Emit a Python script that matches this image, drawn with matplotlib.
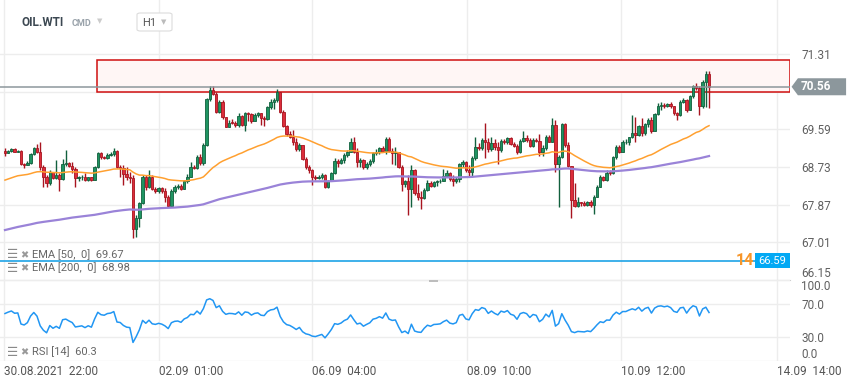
import numpy as np
import matplotlib
matplotlib.use('Agg')
import matplotlib.pyplot as plt
from matplotlib.patches import Polygon, Rectangle, FancyBboxPatch
from matplotlib.transforms import blended_transform_factory

plt.rcParams['font.family'] = ['Roboto', 'DejaVu Sans']

# OIL.WTI H1 candles
first_open = 69.09
closes = [
    69.04, 69.09, 69.13, 69.08, 69.09, 68.80, 68.77, 68.83, 69.03, 69.16,
    69.06, 68.72, 68.51, 68.37, 68.62, 68.48, 68.55, 68.45, 68.80, 68.83,
    68.75, 68.68, 68.47, 68.49, 68.51, 68.43, 68.49, 68.43, 68.72, 69.04,
    68.95, 68.93, 69.01, 69.03, 69.10, 68.72, 68.70, 68.57, 68.49, 68.47,
    67.31, 67.56, 67.90, 68.51, 68.28, 68.51, 68.22, 68.17, 68.24, 68.18,
    68.05, 67.84, 68.19, 68.28, 68.30, 68.22, 68.42, 68.51, 68.72, 68.70,
    68.95, 68.81, 69.23, 70.28, 70.49, 70.40, 69.99, 70.22, 69.86, 69.65,
    69.74, 69.73, 69.69, 69.89, 69.69, 69.97, 69.94, 69.79, 69.92, 69.96,
    69.84, 69.82, 70.09, 70.22, 70.26, 70.43, 69.99, 69.67, 69.48, 69.42,
    69.29, 69.13, 69.23, 68.90, 68.72, 68.65, 68.51, 68.47, 68.51, 68.55,
    68.27, 68.42, 68.60, 68.87, 68.83, 68.89, 69.01, 69.08, 69.30, 69.08,
    68.85, 68.89, 68.72, 68.80, 68.87, 69.04, 69.08, 69.16, 69.10, 69.36,
    69.10, 69.04, 69.06, 68.72, 68.34, 68.40, 68.22, 68.65, 68.13, 68.04,
    68.01, 68.21, 68.37, 68.30, 68.39, 68.40, 68.42, 68.52, 68.59, 68.45,
    68.41, 68.46, 68.80, 68.85, 68.66, 68.62, 68.93, 69.19, 69.16, 69.35,
    69.31, 69.13, 69.27, 69.18, 69.12, 69.33, 69.29, 69.38, 69.25, 69.21,
    69.06, 69.33, 69.39, 69.35, 69.21, 69.35, 69.32, 69.07, 69.17, 69.42,
    69.31, 69.68, 68.80, 68.95, 69.71, 69.23, 68.75, 67.98, 67.84, 67.93,
    67.90, 67.87, 67.93, 67.86, 68.05, 68.28, 68.49, 68.43, 68.60, 68.59,
    68.95, 69.19, 69.08, 69.29, 69.29, 69.41, 69.51, 69.46, 69.67, 69.50,
    69.71, 69.80, 69.54, 69.94, 70.11, 70.15, 70.11, 70.17, 70.11, 69.96,
    69.92, 70.22, 70.26, 70.03, 70.34, 70.58, 70.53, 70.11, 70.68, 70.85,
    70.56,
]
highs = [
    69.16, 69.12, 69.16, 69.17, 69.12, 69.12, 68.83, 68.86, 69.04, 69.19,
    69.25, 69.31, 68.78, 68.55, 68.66, 68.62, 68.89, 68.59, 68.90, 69.12,
    68.85, 68.85, 68.72, 68.52, 68.55, 68.59, 68.51, 68.49, 68.75, 69.07,
    69.06, 68.98, 69.04, 69.06, 69.16, 69.12, 68.78, 68.78, 68.72, 68.62,
    68.55, 67.63, 67.94, 68.55, 68.55, 68.66, 68.55, 68.28, 68.28, 68.27,
    68.24, 68.09, 68.22, 68.32, 68.34, 68.34, 68.43, 68.57, 68.85, 68.78,
    69.00, 69.03, 69.27, 70.30, 70.58, 70.58, 70.45, 70.26, 70.26, 69.86,
    69.80, 69.82, 69.77, 69.96, 69.92, 69.99, 69.99, 69.96, 69.96, 69.99,
    69.97, 69.89, 70.12, 70.28, 70.30, 70.50, 70.45, 70.02, 69.69, 69.54,
    69.57, 69.38, 69.27, 69.21, 68.95, 68.78, 68.68, 68.55, 68.55, 68.59,
    68.57, 68.43, 68.62, 68.93, 68.90, 68.93, 69.04, 69.12, 69.38, 69.42,
    69.16, 68.93, 68.90, 68.85, 68.90, 69.08, 69.13, 69.19, 69.21, 69.41,
    69.41, 69.16, 69.19, 69.08, 68.78, 68.43, 68.55, 68.78, 68.68, 68.34,
    68.17, 68.24, 68.43, 68.41, 68.42, 68.43, 68.45, 68.68, 68.66, 68.62,
    68.55, 68.51, 68.83, 68.89, 68.87, 68.78, 68.97, 69.42, 69.27, 69.38,
    69.73, 69.38, 69.42, 69.36, 69.29, 69.36, 69.36, 69.41, 69.41, 69.31,
    69.25, 69.36, 69.54, 69.46, 69.38, 69.38, 69.38, 69.48, 69.23, 69.46,
    69.46, 69.84, 69.80, 69.00, 69.74, 69.74, 69.31, 68.75, 68.36, 68.05,
    67.94, 67.96, 67.96, 67.98, 68.09, 68.32, 68.55, 68.52, 68.65, 68.66,
    68.98, 69.23, 69.23, 69.35, 69.36, 69.42, 69.92, 69.88, 69.69, 69.84,
    69.74, 69.84, 69.86, 69.97, 70.18, 70.22, 70.20, 70.20, 70.22, 70.12,
    69.99, 70.26, 70.30, 70.28, 70.37, 70.60, 70.64, 70.58, 70.72, 70.93,
    70.91,
]
lows = [
    68.97, 69.04, 69.08, 69.06, 69.06, 68.77, 68.70, 68.78, 68.80, 69.01,
    69.04, 68.66, 68.28, 68.28, 68.32, 68.45, 68.46, 68.17, 68.43, 68.75,
    68.72, 68.59, 68.28, 68.40, 68.43, 68.40, 68.40, 68.41, 68.43, 68.70,
    68.90, 68.90, 68.92, 68.97, 68.98, 68.70, 68.51, 68.32, 68.43, 68.36,
    67.10, 67.14, 67.37, 67.89, 68.21, 68.24, 68.21, 68.13, 68.14, 68.13,
    67.94, 67.81, 67.84, 68.14, 68.22, 68.21, 68.22, 68.36, 68.49, 68.68,
    68.69, 68.78, 68.78, 69.21, 70.24, 70.37, 69.97, 69.97, 69.82, 69.64,
    69.64, 69.71, 69.65, 69.65, 69.67, 69.54, 69.77, 69.74, 69.77, 69.86,
    69.69, 69.67, 69.80, 70.05, 70.05, 70.22, 69.97, 69.64, 69.44, 69.38,
    69.23, 69.10, 69.10, 68.89, 68.68, 68.59, 68.32, 68.43, 68.45, 68.46,
    68.24, 68.24, 68.40, 68.57, 68.72, 68.80, 68.83, 68.95, 69.06, 69.04,
    68.72, 68.74, 68.68, 68.68, 68.75, 68.83, 69.00, 69.03, 69.06, 69.03,
    69.06, 68.80, 68.78, 68.70, 68.17, 68.28, 67.63, 67.82, 68.09, 67.98,
    67.76, 67.99, 68.17, 68.28, 68.28, 68.30, 68.36, 68.42, 68.49, 68.42,
    68.30, 68.37, 68.39, 68.72, 68.62, 68.51, 68.51, 68.89, 69.12, 69.12,
    68.93, 69.08, 69.10, 69.12, 68.80, 69.06, 69.25, 69.25, 69.23, 69.18,
    69.03, 69.04, 69.29, 69.31, 69.18, 69.19, 69.29, 68.97, 68.98, 69.12,
    69.29, 69.29, 68.62, 67.82, 68.93, 69.19, 68.72, 67.56, 67.81, 67.82,
    67.84, 67.84, 67.85, 67.82, 67.66, 68.04, 68.27, 68.40, 68.42, 68.55,
    68.57, 68.90, 69.04, 69.06, 69.25, 69.23, 69.38, 69.31, 69.44, 69.44,
    69.46, 69.65, 69.51, 69.54, 69.92, 70.03, 70.07, 70.09, 70.07, 69.92,
    69.80, 69.89, 70.18, 69.99, 70.02, 70.30, 70.49, 69.92, 70.07, 70.09,
    70.07,
]

# indicator starting values (from the left edge of the chart)
ema50_start = 68.43
ema200_start = 67.29
rsi_start_gain = 0.055
rsi_start_loss = 0.035

price_ticks = [71.31, 70.45, 69.59, 68.73, 67.87, 67.01, 66.15]
price_labels = ['71.31', '', '69.59', '68.73', '67.87', '67.01', '66.15']
rsi_ticks = [0, 30, 70, 100]
rsi_labels = ['0.0', '30.0', '70.0', '100.0']
time_pos = [-0.3, 48.1, 95.9, 144.4, 192.5, 241.25]
time_labels = ['30.08.2021  22:00', '02.09  01:00', '06.09  04:00',
               '08.09  10:00', '10.09  12:00', '14.09  14:00']

zone_low, zone_high, zone_start = 70.44, 71.16, 28.75
last_price = 70.56
alert_price = 66.59

W, H = 859, 385
fig = plt.figure(figsize=(W / 100, H / 100), dpi=100)

ax = fig.add_axes([0, 105 / H, 790 / W, 280 / H])
ax2 = fig.add_axes([0, 24 / H, 790 / W, 81 / H])

n = len(closes)
x = np.arange(n)
c = np.array(closes)
o = np.concatenate([[first_open], c[:-1]])
hi = np.maximum(np.array(highs), np.maximum(o, c))
lo = np.minimum(np.array(lows), np.minimum(o, c))
up = c >= o

xlim = (-1.56, 245.3)
for a in (ax, ax2):
    a.set_xlim(*xlim)
    a.set_facecolor('none')
    for s in a.spines.values():
        s.set_visible(False)
    a.set_xticks(time_pos)
    a.grid(True, color='#ededed', lw=1)
    a.set_axisbelow(True)
    a.yaxis.tick_right()
    a.tick_params(length=0, colors='#606060', labelsize=8.5)

ax.set_ylim(66.15, 72.54)
ax.set_yticks(price_ticks)
ax.set_yticklabels(price_labels)
ax.tick_params(axis='y', pad=8)
ax.get_yticklabels()[-1].set_va('bottom')
ax.set_xticklabels([])
ax.spines['bottom'].set_visible(True)
ax.spines['bottom'].set_color('#cfcfcf')

# zone
ax.add_patch(Rectangle((zone_start, zone_low), xlim[1] - zone_start, zone_high - zone_low,
                       facecolor='#fff6f5', edgecolor='#d01010', lw=1.1, zorder=2))

# candles
edge = np.where(up, '#11603d', '#a8141f')
fill = np.where(up, '#1f9462', '#dc2d3b')
ax.vlines(x, lo, hi, colors=edge, lw=1, zorder=3)
ax.bar(x, np.maximum(np.abs(c - o), 0.02), bottom=np.minimum(o, c), width=0.72,
       color=fill, edgecolor=edge, linewidth=0.6, zorder=4)

# EMAs
def ema(vals, start, period):
    k = 2 / (period + 1)
    out = [start]
    for v in vals[1:]:
        out.append(out[-1] + k * (v - out[-1]))
    return np.array(out)

ax.plot(x, ema(c, ema200_start, 200), color='#9a83d8', lw=1.6, zorder=5)
ax.plot(x, ema(c, ema50_start, 50), color='#ffa030', lw=1.1, zorder=5)

# last price line and label
ax.axhline(last_price, color='#8d979c', lw=1.1, zorder=6)
bt = blended_transform_factory(ax.transAxes, ax.transData)
hh = 8.5 / 43.8
ax.add_patch(Polygon([(1.002, last_price), (1.010, last_price + hh), (1.071, last_price + hh),
                      (1.071, last_price - hh), (1.010, last_price - hh)],
                     closed=True, transform=bt, facecolor='#8c979c', edgecolor='none',
                     clip_on=False, zorder=7))
ax.text(1.013, last_price, '%.2f' % last_price, transform=bt, color='white',
        fontsize=8.5, fontweight='bold', va='center', ha='left', zorder=8)

# alert line
ax.axhline(alert_price, color='#1ea3e6', lw=1.2, zorder=6)
ax.text(0.954, alert_price, '14', transform=bt, color='#f7962a', fontsize=11.5,
        fontweight='bold', va='center', ha='right', zorder=7)
ah = 7.5 / 43.8
ax.add_patch(Rectangle((0.956, alert_price - ah), 0.044, 2 * ah, transform=bt,
                       facecolor='#03a9f4', edgecolor='none', clip_on=False, zorder=8))
ax.text(0.978, alert_price, '%.2f' % alert_price, transform=bt, color='white',
        fontsize=8, va='center', ha='center', zorder=9)

# RSI
delta = np.diff(np.concatenate([[first_open], c]))
g, l = rsi_start_gain, rsi_start_loss
rsi = []
for d in delta:
    g = (g * 13 + max(d, 0)) / 14
    l = (l * 13 + max(-d, 0)) / 14
    rsi.append(100 - 100 / (1 + g / l))
ax2.plot(x, rsi, color='#2196f3', lw=1.1, zorder=5)
ax2.set_ylim(0, 100)
ax2.set_yticks(rsi_ticks)
ax2.set_yticklabels(rsi_labels)
ax2.tick_params(axis='y', pad=8)
labs = ax2.get_yticklabels()
labs[0].set_va('bottom')
labs[-1].set_va('top')
ax2.set_xticklabels(time_labels, ha='left')
ax2.tick_params(axis='x', pad=3, colors='#555555')

# legends
def legend(ypx, label):
    fig.text(7 / W, 1 - ypx / H, '\u2630', fontsize=9, color='#8a8a8a', va='center',
             fontweight='bold', family=['DejaVu Sans'])
    fig.text(20 / W, 1 - ypx / H, '\u2716', fontsize=7, color='#9a9a9a', va='center',
             family=['DejaVu Sans'])
    fig.text(32 / W, 1 - ypx / H, label, fontsize=8, color='#666666', va='center')

legend(255, 'EMA [50,  0]  69.67')
legend(268, 'EMA [200,  0]  68.98')
legend(352, 'RSI [14]  60.3')

fig.patches.append(Rectangle((429 / W, 1 - 282 / H), 9 / W, 2 / H, transform=fig.transFigure,
                             facecolor='#bdbdbd', edgecolor='none'))

# header
fig.text(21 / W, 1 - 23 / H, 'OIL.WTI', fontsize=8.5, fontweight='bold', color='#3c4852',
         va='center')
fig.text(72 / W, 1 - 23 / H, 'CMD', fontsize=6.5, fontweight='bold', color='#9aa3ab',
         va='center')
fig.text(97 / W, 1 - 21 / H, '\u25bc', fontsize=5, color='#cccccc', va='center',
         family=['DejaVu Sans'])
fig.patches.append(FancyBboxPatch((137 / W, 1 - 31 / H), 35 / W, 18 / H,
                                  boxstyle='round,pad=0,rounding_size=0.004',
                                  transform=fig.transFigure, facecolor='white',
                                  edgecolor='#dcdcdc', lw=0.8))
fig.text(142 / W, 1 - 22.5 / H, 'H1', fontsize=8, color='#555555', va='center')
fig.text(161 / W, 1 - 22 / H, '\u25bc', fontsize=5, color='#bbbbbb', va='center',
         family=['DejaVu Sans'])

fig.savefig('out.png', dpi=100)
